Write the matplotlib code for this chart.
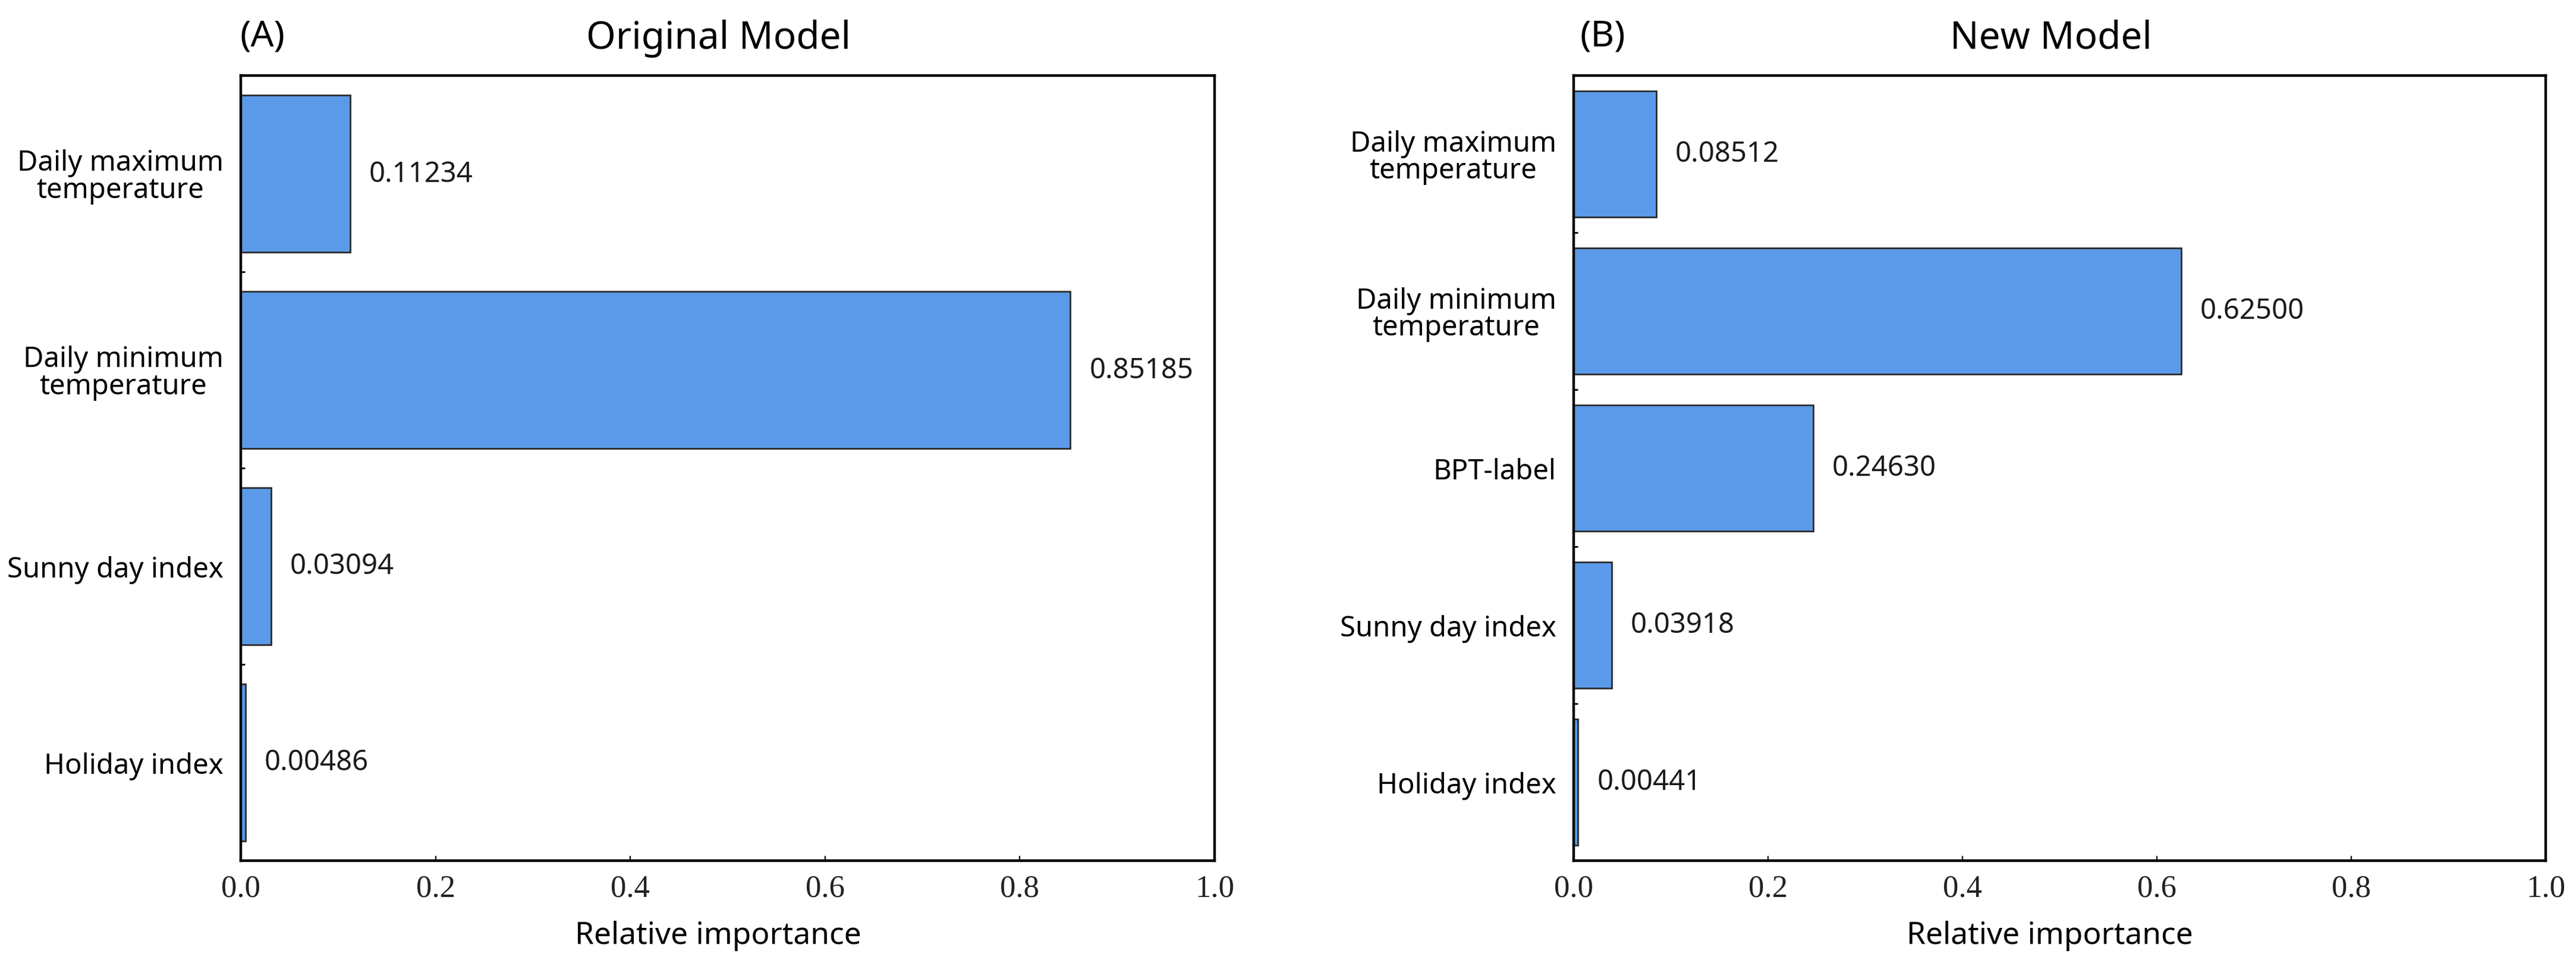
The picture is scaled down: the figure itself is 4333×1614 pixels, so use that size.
import matplotlib
matplotlib.use("Agg")
import matplotlib.pyplot as plt
from matplotlib.ticker import FixedLocator

# ---- data ----
cats_a = ["Daily maximum\ntemperature", "Daily minimum\ntemperature",
          "Sunny day index", "Holiday index"]
vals_a = [0.11234, 0.85185, 0.03094, 0.00486]

cats_b = ["Daily maximum\ntemperature", "Daily minimum\ntemperature",
          "BPT-label", "Sunny day index", "Holiday index"]
vals_b = [0.08512, 0.62500, 0.24630, 0.03918, 0.00441]

titles = ["Original Model", "New Model"]
panel_tags = ["(A)", "(B)"]
xticks = [0.0, 0.2, 0.4, 0.6, 0.8, 1.0]
xtick_labels = ["0.0", "0.2", "0.4", "0.6", "0.8", "1.0"]
xlabel = "Relative importance"

# ---- style ----
W, H = 4333, 1615
DPI = 100
SANS = ["Noto Sans", "DejaVu Sans"]
SERIF = ["Liberation Serif", "DejaVu Serif"]
BAR_COLOR = "#5B9AE8"
EDGE = "#2b2b2b"

fig = plt.figure(figsize=(W / DPI, H / DPI), dpi=DPI)

ax_boxes = [
    (405, 2043, 128, 1448),
    (2647, 4282, 128, 1448),
]
tag_dx = [37, 49]


def fx(px):
    return px / W


def fy(py):
    return 1 - py / H


panels = [(cats_a, vals_a), (cats_b, vals_b)]
for i, ((cats, vals), (x0, x1, y0, y1)) in enumerate(zip(panels, ax_boxes)):
    ax = fig.add_axes([fx(x0), fy(y1), (x1 - x0) / W, (y1 - y0) / H])
    n = len(cats)
    pos = list(range(n))
    ax.barh(pos, vals, height=0.8, color=BAR_COLOR, edgecolor=EDGE,
            linewidth=2.0, zorder=2)
    ax.set_ylim(n - 0.5, -0.5)
    ax.set_xlim(0, 1.0)

    ax.set_yticks(pos)
    ax.set_yticklabels(cats, fontsize=34, family=SANS, linespacing=0.95,
                       multialignment="center")
    ax.yaxis.set_minor_locator(FixedLocator([p + 0.5 for p in pos[:-1]]))
    ax.tick_params(axis="y", which="major", length=0, pad=21)
    ax.tick_params(axis="y", which="minor", direction="in", length=5,
                   width=2, color="black")

    ax.set_xticks(xticks)
    ax.set_xticklabels(xtick_labels, fontsize=38, family=SERIF,
                       color="#222222")
    ax.tick_params(axis="x", which="major", direction="in", length=6,
                   width=1.6, pad=16, color="black")

    for sp in ax.spines.values():
        sp.set_linewidth(3.2)
        sp.set_color("black")
        sp.set_zorder(3)

    for p, v in zip(pos, vals):
        ax.annotate(f"{v:.5f}", xy=(v, p), xytext=(23, 0),
                    textcoords="offset points", va="center", ha="left",
                    fontsize=34, family=SANS, color="#1a1a1a")

    ax.set_xlabel(xlabel, fontsize=37, family=SANS, va="baseline")
    ax.xaxis.set_label_coords(0.49, (y1 - 1587) / (y1 - y0))

    fig.text(fx((x0 + x1) / 2 - 15), fy(82), titles[i], fontsize=46,
             family=SANS, ha="center", va="baseline")
    fig.text(fx(x0 + tag_dx[i]), fy(62), panel_tags[i], fontsize=44,
             family=SANS, ha="center", va="center")

fig.savefig("out.png", dpi=DPI, facecolor="white")
